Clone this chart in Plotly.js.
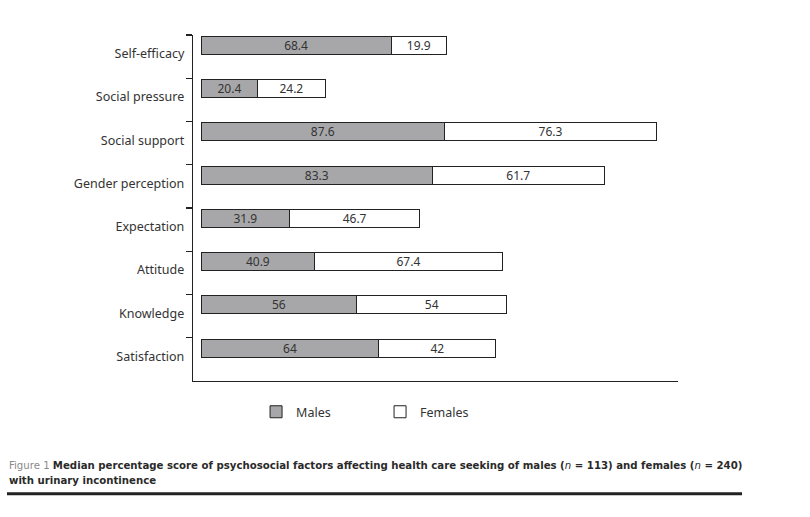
<!DOCTYPE html>
<html>
<head>
<meta charset="utf-8">
<script src="https://cdn.plot.ly/plotly-3.0.1.min.js"></script>
<style>html,body{margin:0;padding:0;background:#fff;}#chart{width:810px;height:517px;}</style>
</head>
<body>
<div id="chart"></div>
<script>
var categories = ["Self-efficacy", "Social pressure", "Social support", "Gender perception", "Expectation", "Attitude", "Knowledge", "Satisfaction"];
var males = [68.4, 20.4, 87.6, 83.3, 31.9, 40.9, 56, 64];
var females = [19.9, 24.2, 76.3, 61.7, 46.7, 67.4, 54, 42];
var maleLabels = ["68.4", "20.4", "87.6", "83.3", "31.9", "40.9", "56", "64"];
var femaleLabels = ["19.9", "24.2", "76.3", "61.7", "46.7", "67.4", "54", "42"];
var seriesNames = ["Males", "Females"];

var lblFont = {family: "Noto Sans, DejaVu Sans, sans-serif", size: 12, color: "#333"};
function barTrace(vals, labels, name, fill) {
  return {
    type: "bar", orientation: "h", name: name,
    x: vals, y: categories,
    text: labels, texttemplate: "%{text}",
    textposition: "inside", insidetextanchor: "middle",
    textangle: 0, constraintext: "none",
    textfont: lblFont,
    offset: -0.47, width: 0.42,
    marker: {color: fill, line: {color: "#222", width: 1}},
    hoverinfo: "skip"
  };
}
var data = [
  barTrace(males, maleLabels, seriesNames[0], "#a7a7a9"),
  barTrace(females, femaleLabels, seriesNames[1], "#ffffff")
];

var layout = {
  width: 810, height: 517,
  margin: {l: 193, r: 132, t: 35, b: 136},
  paper_bgcolor: "#fff", plot_bgcolor: "#fff",
  barmode: "stack",
  showlegend: true,
  legend: {
    orientation: "h", x: 0.13, xanchor: "left", y: -0.09, yanchor: "middle",
    font: {family: "Noto Sans, DejaVu Sans, sans-serif", size: 12.5, color: "#333"},
    entrywidth: 79, entrywidthmode: "pixels", traceorder: "normal"
  },
  xaxis: {
    range: [-2.9, 171.6], showline: true, linecolor: "#222", linewidth: 1.2,
    showticklabels: false, ticks: "", showgrid: false, zeroline: false, fixedrange: true
  },
  yaxis: {
    type: "category", range: [7.5, -0.5],
    showline: true, linecolor: "#222", linewidth: 1.2,
    ticks: "outside", ticklen: 6, tickcolor: "#222", tickwidth: 1.2,
    tickson: "boundaries", showgrid: false, zeroline: false,
    ticklabelstandoff: 5, ticklabelshift: 3,
    tickfont: {family: "Noto Sans, DejaVu Sans, sans-serif", size: 12.5, color: "#333"},
    fixedrange: true
  },
  annotations: [{
    xref: "paper", yref: "paper",
    x: -0.3835, y: -0.22, xanchor: "left", yanchor: "top", align: "left",
    showarrow: false,
    font: {family: "DejaVu Sans Condensed, Liberation Sans Narrow, sans-serif", size: 11.3, color: "#2a2a2a"},
    text: "<span style='color:#8a8a8a'>Figure 1</span> <b>Median percentage score of psychosocial factors affecting health care seeking of males (</b><i>n</i><b> = 113) and females (</b><i>n</i><b> = 240)<br>with urinary incontinence</b>"
  }],
  shapes: [{
    type: "line", xref: "paper", yref: "paper",
    x0: -0.3835, x1: 1.132, y0: -0.326, y1: -0.326,
    line: {color: "#222", width: 3}
  }]
};

Plotly.newPlot("chart", data, layout, {displayModeBar: false, staticPlot: true});
</script>
</body>
</html>
